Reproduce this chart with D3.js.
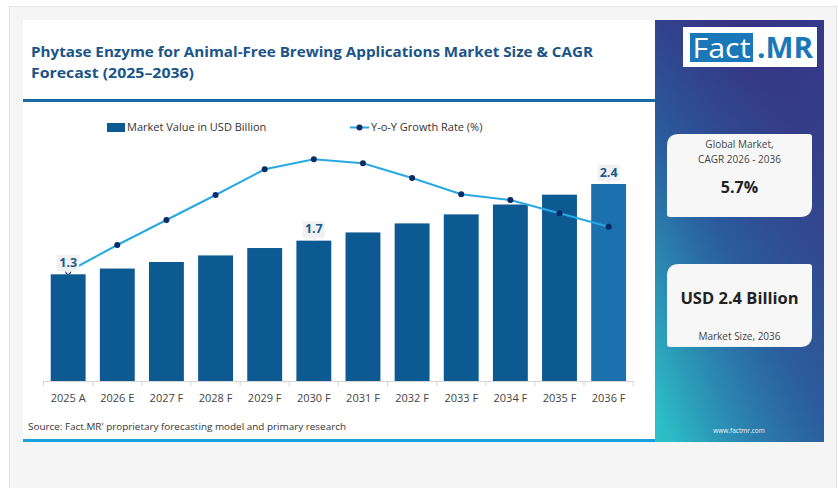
<!DOCTYPE html>
<html><head><meta charset="utf-8">
<script src="https://cdn.jsdelivr.net/npm/d3@7"></script>
<style>body{margin:0;background:#fff;}svg{display:block;}</style>
</head><body>
<svg id="c" width="838" height="488"></svg>
<script>
const categories = ["2025 A","2026 E","2027 F","2028 F","2029 F","2030 F","2031 F","2032 F","2033 F","2034 F","2035 F","2036 F"];
const marketValues = [1.30,1.37,1.45,1.53,1.62,1.71,1.81,1.92,2.03,2.15,2.27,2.40];
const growthRates = [4.38,5.44,6.44,7.44,8.47,8.87,8.71,8.12,7.47,7.24,6.71,6.17];
const labelled = {0:"1.3",5:"1.7",11:"2.4"};
const titleLines = ["Phytase Enzyme for Animal-Free Brewing Applications Market Size & CAGR","Forecast (2025\u20132036)"];
const legendLabels = ["Market Value in USD Billion","Y-o-Y Growth Rate (%)"];

const svg = d3.select("#c");
const FONT = "'Open Sans', 'Noto Sans', sans-serif";
const defs = svg.append("defs");
const g1 = defs.append("linearGradient").attr("id","pg").attr("x1","0.8").attr("y1","0").attr("x2","0.1").attr("y2","1");
g1.append("stop").attr("offset","0").attr("stop-color","#3b1876");
g1.append("stop").attr("offset","0.15").attr("stop-color","#3a2378");
g1.append("stop").attr("offset","0.55").attr("stop-color","#2a5c9e");
g1.append("stop").attr("offset","1").attr("stop-color","#2cc0c8");
const g2 = defs.append("linearGradient").attr("id","pg2").attr("x1","0").attr("y1","0").attr("x2","1").attr("y2","0");
g2.append("stop").attr("offset","0").attr("stop-color","#2d6aa5").attr("stop-opacity",0);
g2.append("stop").attr("offset","1").attr("stop-color","#2d5e9e").attr("stop-opacity",0.5);

// outer panel
svg.append("rect").attr("x",9.5).attr("y",6.5).attr("width",827).attr("height",490).attr("fill","#f5f5f5").attr("stroke","#e3e3e3");
// white card
svg.append("rect").attr("x",23).attr("y",20).attr("width",632).attr("height",421).attr("fill","#fff");
// title
titleLines.forEach((t,i)=>{
  svg.append("text").attr("x",31).attr("y",57+i*21).text(t)
    .attr("font-family",FONT).attr("font-weight",700).attr("font-size",15).attr("fill","#1a5488")
    .attr("textLength", i===0?562:163).attr("lengthAdjust","spacingAndGlyphs");
});
svg.append("rect").attr("x",23).attr("y",99).attr("width",632).attr("height",3).attr("fill","#1c6aa5");
svg.append("rect").attr("x",23).attr("y",439).attr("width",632).attr("height",3).attr("fill","#1ba1dc");

// scales
const x = d3.scaleBand().domain(categories).range([43.6,633.2]).paddingInner(0.29).paddingOuter(0.145);
const y = d3.scaleLinear().domain([0,2.4]).range([381,184]);
const yg = d3.scaleLinear().domain([0,10]).range([381,131]);

// legend
svg.append("rect").attr("x",107).attr("y",123).attr("width",18).attr("height",9).attr("fill","#0d5a93");
svg.append("text").attr("x",127).attr("y",131).text(legendLabels[0]).attr("font-family",FONT).attr("font-size",11).attr("fill","#333");
svg.append("line").attr("x1",350).attr("x2",369).attr("y1",127.5).attr("y2",127.5).attr("stroke","#29a9e1").attr("stroke-width",2);
svg.append("circle").attr("cx",359.5).attr("cy",127.5).attr("r",3).attr("fill","#0a2a66");
svg.append("text").attr("x",371).attr("y",131).text(legendLabels[1]).attr("font-family",FONT).attr("font-size",11).attr("fill","#333");

// bars
svg.append("g").selectAll("rect").data(categories).join("rect")
  .attr("x",d=>x(d)).attr("width",x.bandwidth())
  .attr("y",(d,i)=>y(marketValues[i])).attr("height",(d,i)=>y(0)-y(marketValues[i]))
  .attr("fill",(d,i)=>i===categories.length-1?"#1b70ad":"#0d5a93");

// axis
const ax = svg.append("g").attr("transform","translate(0,381)")
  .call(d3.axisBottom(x).tickSize(0).tickPadding(13));
ax.select(".domain").attr("stroke","#d6d6d6").attr("d","M43.6,0.5H633.2");
ax.selectAll("text").attr("font-family",FONT).attr("font-size",11).attr("fill","#444");
const bounds = categories.map(c=>x(c)-x.step()*x.paddingInner()/2).concat([x(categories[categories.length-1])+x.bandwidth()+x.step()*x.paddingInner()/2]);
svg.append("g").selectAll("line").data(bounds).join("line")
  .attr("x1",d=>d).attr("x2",d=>d).attr("y1",381).attr("y2",386).attr("stroke","#d6d6d6");

// growth line
const cx = d=>x(d)+x.bandwidth()/2;
svg.append("path").datum(categories)
  .attr("d",d3.line().x(cx).y((d,i)=>yg(growthRates[i])))
  .attr("fill","none").attr("stroke","#29a9e1").attr("stroke-width",2);
svg.append("g").selectAll("circle").data(categories).join("circle")
  .attr("cx",cx).attr("cy",(d,i)=>yg(growthRates[i])).attr("r",3).attr("fill","#0a2a66");

// value labels (callout boxes)
Object.keys(labelled).forEach(k=>{
  const i=+k, c=categories[i];
  const top = y(marketValues[i]);
  const yc = top - 12;
  const xc = cx(c);
  svg.append("path").attr("d",`M${xc-11},${yc-7.5}H${xc+11}V${top-3}H${xc+3}L${xc},${top}L${xc-3},${top-3}H${xc-11}Z`).attr("fill","#f0f1f3");
  svg.append("text").attr("x",xc).attr("y",yc+4.5).attr("text-anchor","middle").text(labelled[k])
    .attr("font-family",FONT).attr("font-weight",700).attr("font-size",12.5).attr("fill","#1b5a8c");
});

// source
svg.append("text").attr("x",28).attr("y",430).text("Source: Fact.MR' proprietary forecasting model and primary research")
  .attr("font-family",FONT).attr("font-size",9.5).attr("fill","#333").attr("textLength",318).attr("lengthAdjust","spacingAndGlyphs");

// right panel
svg.append("rect").attr("x",655).attr("y",20).attr("width",169).attr("height",422).attr("fill","url(#pg)");
svg.append("rect").attr("x",655).attr("y",20).attr("width",169).attr("height",422).attr("fill","url(#pg2)");
// logo
svg.append("rect").attr("x",683).attr("y",27).attr("width",134).attr("height",40).attr("fill","#fff");
svg.append("rect").attr("x",690).attr("y",33).attr("width",63).attr("height",29).attr("fill","#1a78b8");
svg.append("text").attr("x",721.5).attr("y",58).attr("text-anchor","middle").text("Fact")
  .attr("font-family",FONT).attr("font-size",28).attr("fill","#fff").attr("textLength",58).attr("lengthAdjust","spacingAndGlyphs");
svg.append("text").attr("x",785).attr("y",58).attr("text-anchor","middle").text(".MR")
  .attr("font-family",FONT).attr("font-weight",700).attr("font-size",28).attr("fill","#1a78b8").attr("textLength",56).attr("lengthAdjust","spacingAndGlyphs");

function card(x0,y0,w,h){
  const R=12,r=3;
  const p=`M${x0+R},${y0}H${x0+w-r}Q${x0+w},${y0} ${x0+w},${y0+r}V${y0+h-R}Q${x0+w},${y0+h} ${x0+w-R},${y0+h}H${x0+r}Q${x0},${y0+h} ${x0},${y0+h-r}V${y0+R}Q${x0},${y0} ${x0+R},${y0}Z`;
  svg.append("path").attr("d",p).attr("fill","#f7f7f7");
}
card(667,134,145,83);
card(667,264,145,83);
const tx=739.5;
svg.append("text").attr("x",tx).attr("y",148).attr("text-anchor","middle").text("Global Market,").attr("font-family",FONT).attr("font-size",10).attr("fill","#444");
svg.append("text").attr("x",tx).attr("y",163).attr("text-anchor","middle").text("CAGR 2026 - 2036").attr("font-family",FONT).attr("font-size",10).attr("fill","#444");
svg.append("text").attr("x",tx).attr("y",193).attr("text-anchor","middle").text("5.7%").attr("font-family",FONT).attr("font-weight",700).attr("font-size",16).attr("fill","#222");
svg.append("text").attr("x",tx).attr("y",304).attr("text-anchor","middle").text("USD 2.4 Billion").attr("font-family",FONT).attr("font-weight",700).attr("font-size",16.5).attr("fill","#222");
svg.append("text").attr("x",tx).attr("y",339.5).attr("text-anchor","middle").text("Market Size, 2036").attr("font-family",FONT).attr("font-size",10).attr("fill","#444");
svg.append("text").attr("x",739).attr("y",433).attr("text-anchor","middle").text("www.factmr.com").attr("font-family",FONT).attr("font-size",6.5).attr("fill","#e8f4f8");
</script>
</body></html>
